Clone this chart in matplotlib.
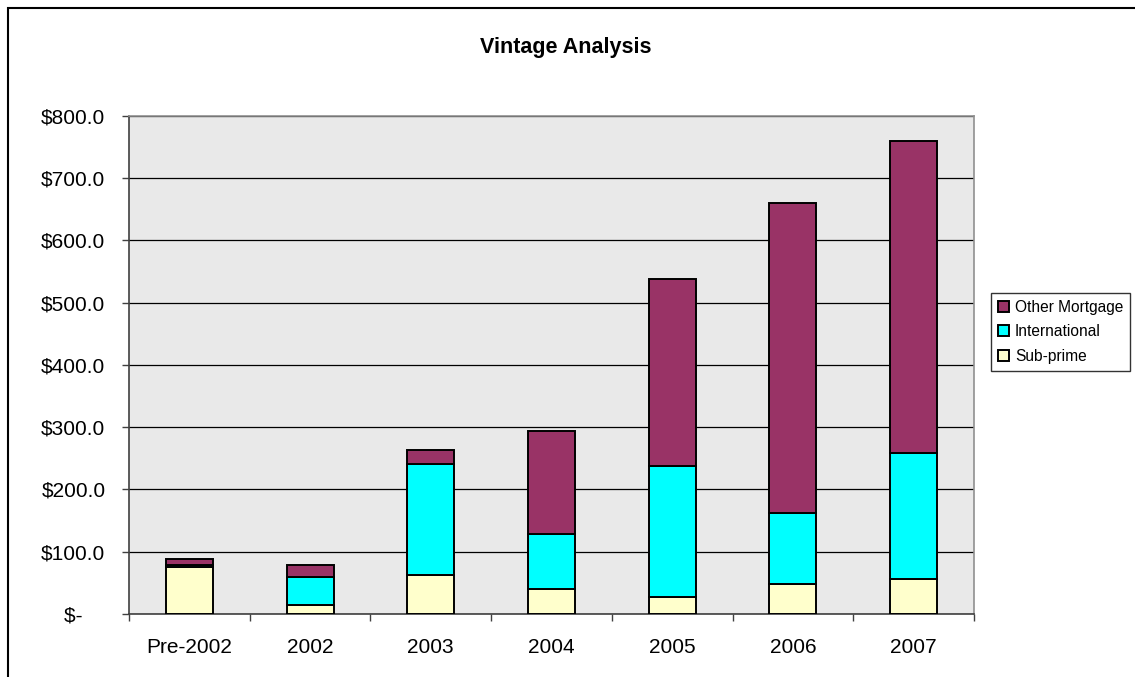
import numpy as np
import matplotlib.pyplot as plt
from matplotlib.patches import Rectangle

# values ($)
vintages = ['Pre-2002', '2002', '2003', '2004', '2005', '2006', '2007']
sub_prime = [76, 14, 63, 40, 27, 48, 56]
international = [3, 45, 178, 88, 211, 114, 203]
other_mortgage = [9, 20, 22, 166, 300, 498, 500]
y_ticks = [0, 100, 200, 300, 400, 500, 600, 700, 800]

plt.rcParams['font.family'] = ['Liberation Sans', 'DejaVu Sans']

fig = plt.figure(figsize=(11.35, 6.77), dpi=100)
ax = fig.add_axes([0.1137, 0.0931, 0.7444, 0.7356])

# outer chart frame (only top/left visible in the reference)
fig.patches.append(Rectangle((8 / 1135, -0.05), 1.1, 1 - 8 / 677 + 0.05,
                             transform=fig.transFigure, fill=False,
                             edgecolor='black', linewidth=1.5))

x = np.arange(len(vintages))
w = 0.39
sp = np.array(sub_prime)
intl = np.array(international)
oth = np.array(other_mortgage)

ax.set_facecolor('#e9e9e9')
b1 = ax.bar(x, sp, w, color='#FFFFCC', edgecolor='black', linewidth=1.4,
            label='Sub-prime', zorder=3)
b2 = ax.bar(x, intl, w, bottom=sp, color='#00FFFF', edgecolor='black',
            linewidth=1.4, label='International', zorder=3)
b3 = ax.bar(x, oth, w, bottom=sp + intl, color='#993366', edgecolor='black',
            linewidth=1.4, label='Other Mortgage', zorder=3)

ax.set_xlim(-0.5, len(vintages) - 0.5)
ax.set_ylim(0, 800)
ax.set_yticks(y_ticks)
ax.set_yticklabels(['$-    '] + ['${:.1f}'.format(v) for v in y_ticks[1:]])
ax.yaxis.grid(True, color='black', linewidth=0.9, zorder=1)
ax.set_axisbelow(True)

ax.set_xticks(x)
ax.set_xticklabels(vintages)
ax.set_xticks(np.arange(len(vintages) + 1) - 0.5, minor=True)
ax.tick_params(axis='x', which='major', length=0, pad=17, labelsize=15)
ax.tick_params(axis='x', which='minor', length=5, width=1, color='#404040')
ax.tick_params(axis='y', length=5, width=1, color='#404040', pad=12,
               labelsize=15)

for s in ['top', 'right']:
    ax.spines[s].set_color('#909090')
    ax.spines[s].set_linewidth(1.2)
for s in ['left', 'bottom']:
    ax.spines[s].set_color('#404040')
    ax.spines[s].set_linewidth(1.2)

fig.text(0.4987, 1 - 47 / 677, 'Vintage Analysis', ha='center', va='center',
         fontsize=15.5, fontweight='bold')

leg = fig.legend(handles=[b3, b2, b1], loc='upper left',
                 bbox_to_anchor=(991 / 1135, 1 - 293 / 677),
                 fontsize=11.2, frameon=True, fancybox=False,
                 handlelength=0.7, handleheight=0.7, handletextpad=0.4,
                 borderpad=0.45, labelspacing=0.6, borderaxespad=0)
leg.get_frame().set_edgecolor('black')
leg.get_frame().set_linewidth(1)

fig.savefig('out.png', dpi=100)
